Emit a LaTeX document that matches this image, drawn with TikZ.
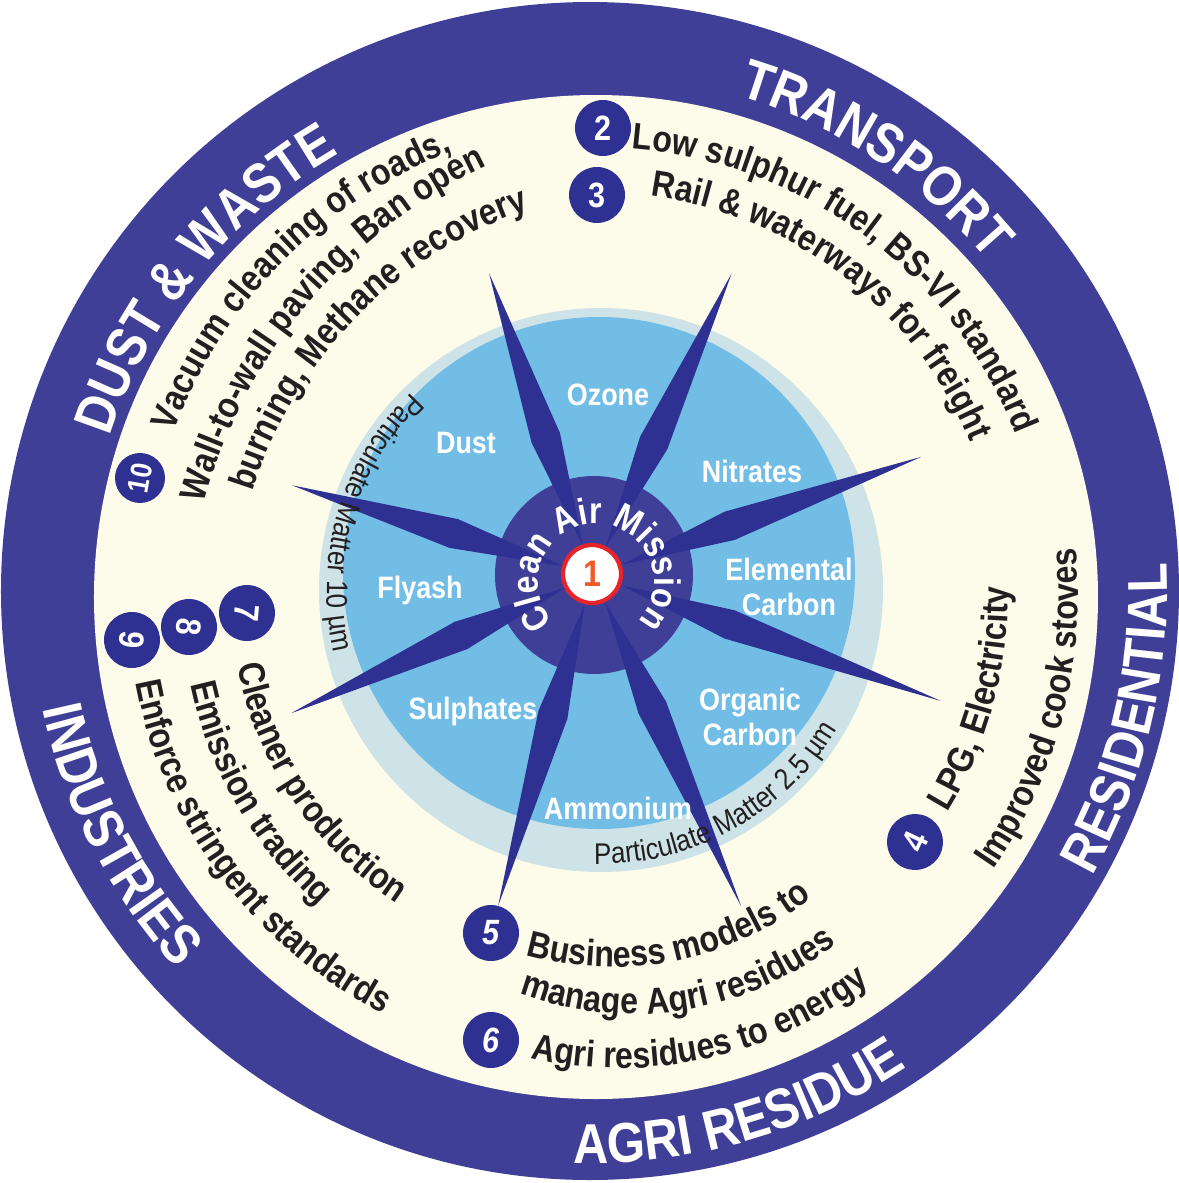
\documentclass[tikz,border=0pt]{standalone}
\usepackage{fontspec}
\setmainfont[FakeStretch=0.87]{Liberation Sans}
\usetikzlibrary{decorations.text}

\definecolor{bandblue}{HTML}{3F3F98}
\definecolor{spikeblue}{HTML}{2E3192}
\definecolor{creamy}{HTML}{FDFBEA}
\definecolor{skyblue}{HTML}{72BDE6}
\definecolor{paleblue}{HTML}{CDE3E8}
\definecolor{inkblack}{HTML}{231F20}
\definecolor{ringred}{HTML}{E8242B}
\definecolor{numorange}{HTML}{F15A29}

% fonts for the curved texts
\newcommand{\bandfont}{\fontsize{16}{18}\selectfont\bfseries\color{white}}
\newcommand{\itemfont}{\fontsize{10.5}{12}\selectfont\bfseries\color{inkblack}}
\newcommand{\pmfont}{\fontsize{8.5}{10}\selectfont\color{inkblack}}
\newcommand{\hubfont}{\fontsize{10.5}{12}\selectfont\bfseries\color{white}}

% text on a circle: centre, radius, middle angle, format, text
\newcommand{\cwtext}[5]{\path[decorate,decoration={text along path,text align=center,text={|#4|#5}}]
  ([shift={({#3+170}:#2)}]#1) arc[start angle={#3+170},end angle={#3-170},radius=#2];}
\newcommand{\ccwtext}[5]{\path[decorate,decoration={text along path,text align=center,text={|#4|#5}}]
  ([shift={({#3-170}:#2)}]#1) arc[start angle={#3-170},end angle={#3+170},radius=#2];}

\begin{document}
\begin{tikzpicture}
\tikzstyle{numdot} = [circle, fill=spikeblue, minimum size=0.56cm, inner sep=0pt, text=white, font=\fontsize{10}{10}\selectfont\bfseries]
\tikzstyle{gas} = [text=white, align=center, font=\fontsize{8.8}{9.8}\selectfont\bfseries]
\tikzstyle{spike} = [fill=spikeblue]

\useasboundingbox (-5.90,-5.92) rectangle (5.89,5.91);

% centres of the rings
\coordinate (o) at (0,0);
\coordinate (cr) at (0.06,-0.06);
\coordinate (pm) at (0.11,0.01);
\coordinate (bd) at (0.09,0.18);
\coordinate (hub) at (0.04,0.16);
\coordinate (sc) at (0.03,0.16);
\coordinate (ca) at (0.06,0.09);
% centres of some measure lines
\coordinate (vac) at (0.37,-0.13);
\coordinate (wall) at (1.23,-0.52);
\coordinate (burn) at (0.77,-0.30);
\coordinate (bus) at (0.23,-0.56);
\coordinate (man) at (0.43,-0.95);
\coordinate (agr) at (0.31,-0.72);

% rings and discs
\fill[bandblue] (o) circle (5.89);
\fill[creamy] (cr) circle (5.02);
\fill[paleblue] (pm) circle (2.82);
\fill[skyblue] (bd) circle (2.56);
\fill[bandblue] (hub) circle (0.99);

% the eight spikes
\foreach \a/\l [count=\i] in {109/3.19, 65.3/3.32, 19.8/3.49, -19.9/3.70, -65.9/3.63, -106/3.44, 204.6/3.32, 163.4/3.14}
  \fill[spike] ([shift={(\a:0.3)}]sc) -- ([shift={({\a+5.9}:1.46)}]sc) -- ([shift={(\a:\l)}]sc) coordinate (tip\i) -- ([shift={({\a-5.9}:1.46)}]sc) -- cycle;

% pollutants
\node[gas] (ozone) at (0.18,1.96) {Ozone};
\node[gas] (dust) at (-1.24,1.48) {Dust};
\node[gas] (nitrates) at (1.62,1.20) {Nitrates};
\node[gas] (elemental) at (1.99,0.04) {Elemental\\Carbon};
\node[gas] (flyash) at (-1.70,0.01) {Flyash};
\node[gas] (sulphates) at (-1.17,-1.20) {Sulphates};
\node[gas] (organic) at (1.60,-1.26) {Organic\\Carbon};
\node[gas] (ammonium) at (0.28,-2.17) {Ammonium};

\ccwtext{pm}{2.74}{163.5}{\pmfont}{Particulate Matter 10 µm}
\ccwtext{pm}{2.74}{-61}{\pmfont}{Particulate Matter 2.5 µm}

% hub
\cwtext{ca}{0.58}{90}{\hubfont}{Clean Air Mission}
\node[circle, draw=ringred, line width=1.2pt, fill=white, minimum size=0.58cm, inner sep=0pt, text=numorange, font=\fontsize{10.5}{10.5}\selectfont\bfseries] (n1) at (0.02,0.17) {1};

% sectors
\cwtext{o}{5.17}{56.5}{\bandfont}{TRANSPORT}
\cwtext{o}{5.04}{141}{\bandfont}{DUST {\&} WASTE}
\ccwtext{o}{5.77}{-13.4}{\bandfont}{RESIDENTIAL}
\ccwtext{o}{5.72}{-74}{\bandfont}{AGRI RESIDUE}
\ccwtext{o}{5.60}{207.3}{\bandfont}{INDUSTRIES}

% measures
\cwtext{cr}{4.50}{53.3}{\itemfont}{Low sulphur fuel, BS-VI standard}
\cwtext{cr}{4.05}{52.4}{\itemfont}{Rail {\&} waterways for freight}
\cwtext{vac}{4.85}{135.2}{\itemfont}{Vacuum cleaning of roads,}
\cwtext{wall}{5.28}{140}{\itemfont}{Wall-to-wall paving, Ban open}
\cwtext{burn}{4.34}{135.6}{\itemfont}{burning, Methane recovery}
\ccwtext{cr}{3.65}{213.9}{\itemfont}{Cleaner production}
\ccwtext{cr}{4.15}{210.2}{\itemfont}{Emission trading}
\ccwtext{cr}{4.68}{216.7}{\itemfont}{Enforce stringent standards}
\ccwtext{cr}{4.12}{-15}{\itemfont}{LPG, Electricity}
\ccwtext{cr}{4.82}{-14.3}{\itemfont}{Improved cook stoves}
\ccwtext{bus}{3.20}{-78.7}{\itemfont}{Business models to}
\ccwtext{man}{3.28}{-81}{\itemfont}{manage Agri residues}
\ccwtext{agr}{4.05}{-77.5}{\itemfont}{Agri residues to energy}

% numbered dots
\node[numdot] (n2) at (0.13,4.63) {2};
\node[numdot] (n3) at (0.07,3.96) {3};
\node[numdot, rotate=65] (n4) at (3.25,-2.51) {4};
\node[numdot, font=\fontsize{10}{10}\selectfont\bfseries\itshape] (n5) at (-0.99,-3.42) {5};
\node[numdot, font=\fontsize{10}{10}\selectfont\bfseries\itshape] (n6) at (-0.99,-4.49) {6};
\node[numdot, rotate=-95] (n7) at (-3.43,-0.22) {7};
\node[numdot, rotate=-95] (n8) at (-4.01,-0.36) {8};
\node[numdot, rotate=-95] (n9) at (-4.58,-0.49) {9};
\node[numdot, rotate=80, minimum size=0.5cm, font=\fontsize{8.5}{8.5}\selectfont\bfseries] (n10) at (-4.50,1.13) {10};

\end{tikzpicture}
\end{document}
